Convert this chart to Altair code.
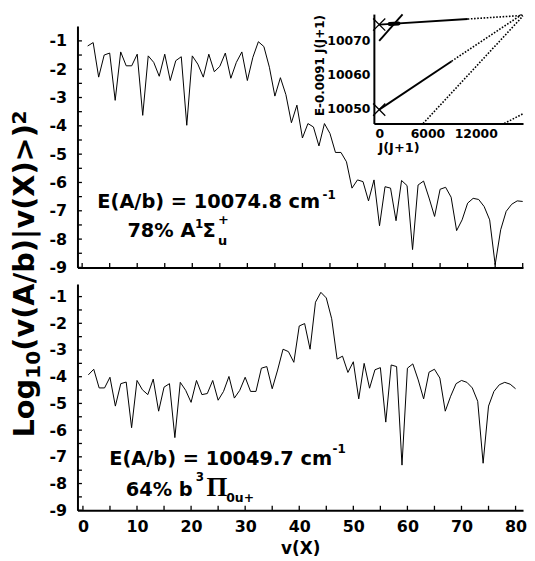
import altair as alt
import pandas as pd

# ---------------- data ----------------
v_levels = list(range(1, 81))

top_vals = [-1.18, -1.06, -2.28, -1.50, -1.43, -3.10, -1.39, -1.88, -1.88, -1.47,
            -3.63, -1.53, -1.76, -2.25, -1.47, -2.40, -1.70, -1.56, -3.98, -1.53,
            -1.82, -2.28, -1.47, -2.09, -1.90, -1.43, -2.32, -1.76, -1.39, -2.40,
            -1.58, -1.03, -1.20, -1.93, -2.95, -2.30, -2.90, -3.89, -3.27, -4.43,
            -3.92, -4.04, -4.71, -3.92, -4.27, -4.94, -4.94, -5.27, -6.20, -5.91,
            -5.97, -6.65, -5.91, -7.53, -6.15, -6.20, -7.35, -5.93, -6.11, -8.37,
            -6.09, -5.95, -6.55, -7.20, -6.24, -6.17, -6.52, -7.70, -7.32, -6.73,
            -6.56, -6.60, -6.85, -7.32, -8.90, -7.67, -7.02, -6.77, -6.65, -6.67]

bottom_vals = [-3.93, -3.72, -4.42, -4.42, -4.02, -5.10, -4.26, -4.20, -5.91, -4.14,
               -4.49, -4.67, -4.09, -5.29, -4.39, -4.26, -6.28, -4.21, -4.51, -4.96,
               -4.14, -4.67, -4.63, -4.14, -4.88, -4.55, -3.99, -4.80, -4.51, -4.02,
               -4.55, -4.55, -3.68, -3.62, -4.45, -3.75, -2.97, -3.06, -3.46, -2.10,
               -2.01, -2.97, -1.21, -0.84, -1.05, -1.83, -3.34, -3.23, -3.84, -3.44,
               -4.83, -3.50, -4.43, -3.74, -3.66, -5.70, -3.56, -3.62, -7.31, -3.68,
               -3.52, -4.12, -4.83, -3.83, -3.72, -4.05, -5.29, -4.73, -4.26, -4.14,
               -4.21, -4.42, -4.92, -7.24, -5.10, -4.55, -4.30, -4.21, -4.28, -4.45]

y_tick_labels = [-1, -2, -3, -4, -5, -6, -7, -8, -9]
y_minor_ticks = [-9.0, -8.5, -8.0, -7.5, -7.0, -6.5, -6.0, -5.5, -5.0,
                 -4.5, -4.0, -3.5, -3.0, -2.5, -2.0, -1.5, -1.0]
x_tick_labels = [0, 10, 20, 30, 40, 50, 60, 70, 80]
x_minor_ticks = [0, 5, 10, 15, 20, 25, 30, 35, 40, 45, 50, 55, 60, 65, 70, 75, 80]

# inset (term values vs J(J+1))
inset_x_ticks = [0, 6000, 12000]
inset_y_ticks = [10050, 10060, 10070]
solid_seg = ["A", "A", "b", "b", "p", "p"]
solid_J = [0, 11000, 0, 9000, 0, 2900]
solid_E = [10074.8, 10076.44, 10049.7, 10064.0, 10070.0, 10077.8]
dot_seg = ["A", "A", "b", "b", "q", "q", "r", "r"]
dot_J = [11000, 17850, 9000, 17800, 5455, 17850, 15534, 17870]
dot_E = [10076.44, 10077.5, 10064.0, 10077.9, 10045.6, 10077.3, 10045.6, 10048.5]
blob_J = [1300, 2400]
blob_E = [10075.0, 10075.15]
origin_J = [0, 0]
origin_E = [10074.8, 10049.7]

FONT = "DejaVu Sans"
BLACK = "black"

W, H = 449, 488
TOP_H = 243.3

top_xs = alt.Scale(domain=[-0.85, 80.06], range=[0, W], nice=False, zero=False)
top_ys = alt.Scale(domain=[-9.0, -0.474], range=[TOP_H, 0], nice=False, zero=False)
bot_xs = alt.Scale(domain=[-1.01, 81.38], range=[0, W], nice=False, zero=False)
bot_ys = alt.Scale(domain=[-9.0, -0.528], range=[H, 260], nice=False, zero=False)
ins_xs = alt.Scale(domain=[-660, 17870], range=[298.7, W], nice=False, zero=False)
ins_ys = alt.Scale(domain=[10045.6, 10077.9], range=[98.3, -12], nice=False, zero=False)

label_expr = "datum.value < 0 ? '-' + format(-datum.value, 'd') : format(datum.value, 'd')"


def y_axis():
    return alt.Axis(orient="left", values=y_tick_labels, labelExpr=label_expr, ticks=False,
                    grid=False, domainColor=BLACK, domainWidth=2, labelFont=FONT,
                    labelFontWeight="bold", labelFontSize=16, labelColor=BLACK,
                    labelPadding=11, title=None)


top_x_axis = alt.Axis(orient="bottom", offset=-(H - TOP_H), labels=False, ticks=False,
                      grid=False, domainColor=BLACK, domainWidth=2, title=None)
bot_x_axis = alt.Axis(orient="bottom", values=x_tick_labels, ticks=False, grid=False,
                      domainColor=BLACK, domainWidth=2, labelFont=FONT, labelFontWeight="bold",
                      labelFontSize=16, labelColor=BLACK, labelPadding=8, title="v(X)",
                      titleFont=FONT, titleFontWeight="bold", titleFontSize=17,
                      titleColor=BLACK, titlePadding=7)
ins_x_axis = alt.Axis(orient="bottom", values=inset_x_ticks, offset=-(H - 98.3), ticks=False,
                      grid=False, domainColor=BLACK, domainWidth=2, labelFont=FONT,
                      labelFontWeight="bold", labelFontSize=12.5, labelColor=BLACK,
                      labelPadding=4.5, format="d", title=None, labelFlush=False)
ins_y_axis = alt.Axis(orient="left", values=inset_y_ticks, offset=-298.7, ticks=False,
                      grid=False, domainColor=BLACK, domainWidth=2, labelFont=FONT,
                      labelFontWeight="bold", labelFontSize=12.5, labelColor=BLACK,
                      labelPadding=4, format="d", title=None, labelFlush=False)


def text_layer(xs, ys, labels, xscale, yscale, xaxis, yaxis, size, xfield="v", yfield="val",
               font=FONT, align="left", baseline="alphabetic", angle=0):
    df = pd.DataFrame({xfield: xs, yfield: ys, "label": labels})
    return alt.Chart(df).mark_text(
        align=align, baseline=baseline, font=font, fontWeight="bold", fontSize=size,
        color=BLACK, angle=angle
    ).encode(
        x=alt.X(f"{xfield}:Q", scale=xscale, axis=xaxis),
        y=alt.Y(f"{yfield}:Q", scale=yscale, axis=yaxis),
        text="label:N",
    )


def panel_base(vals, xs, ys, xaxis, bottom_px):
    df = pd.DataFrame({"v": v_levels, "val": vals})
    line = alt.Chart(df).mark_line(color=BLACK, strokeWidth=1).encode(
        x=alt.X("v:Q", scale=xs, axis=xaxis),
        y=alt.Y("val:Q", scale=ys, axis=y_axis()),
    )
    yt = alt.Chart(pd.DataFrame({"val": y_minor_ticks})).mark_rule(
        color=BLACK, strokeWidth=1.3).encode(
        y=alt.Y("val:Q", scale=ys, axis=y_axis()), x=alt.value(0), x2=alt.value(4.5))
    xt = alt.Chart(pd.DataFrame({"v": x_minor_ticks})).mark_rule(
        color=BLACK, strokeWidth=1.3).encode(
        x=alt.X("v:Q", scale=xs, axis=xaxis), y=alt.value(bottom_px),
        y2=alt.value(bottom_px - 4.5))
    return [line, yt, xt]


# ---------------- top panel ----------------
def tl(xs, ys, labels, size, **kw):
    return text_layer(xs, ys, labels, top_xs, top_ys, top_x_axis, y_axis(), size, **kw)


top_texts = [
    tl([2.757], [-6.905], ["E(A/b) = 10074.8 cm"], 19.5),
    tl([43.66], [-6.579], ["-1"], 12),
    tl([8.216], [-7.937], ["78% A"], 19.5),
    tl([20.5], [-7.596], ["1"], 12),
    tl([21.86], [-7.937], ["Σ"], 19.5),
    tl([24.65], [-7.456], ["+"], 13),
    tl([24.65], [-8.193], ["u"], 13),
    # rotated y-axis title: Log10(v(A/b)|v(X)>)^2
    tl([-8.779], [-15.006], ["Log"], 29, angle=270),
    tl([-7.697], [-12.932], ["10"], 20.3, angle=270),
    tl([-8.779], [-11.940], ["(v(A/b)|v(X)>)"], 29, angle=270),
    tl([-10.130], [-3.957], ["2"], 20.3, angle=270),
]
top_layer = alt.layer(*panel_base(top_vals, top_xs, top_ys, top_x_axis, TOP_H), *top_texts)


# ---------------- bottom panel ----------------
def bl(xs, ys, labels, size, **kw):
    return text_layer(xs, ys, labels, bot_xs, bot_ys, bot_x_axis, y_axis(), size, **kw)


bot_texts = [
    bl([4.862], [-7.308], ["E(A/b) = 10049.7 cm"], 19.5),
    bl([46.15], [-6.874], ["-1"], 12),
    bl([7.927], [-8.469], ["64% b"], 19.5),
    bl([20.85], [-7.900], ["3"], 12),
    bl([22.84], [-8.469], ["Π"], 27, font="Liberation Serif"),
    bl([26.5], [-8.692], ["0u+"], 12.5),
]
bot_layer = alt.layer(*panel_base(bottom_vals, bot_xs, bot_ys, bot_x_axis, H), *bot_texts)


# ---------------- inset ----------------
def ins_enc(chart):
    return chart.encode(x=alt.X("J:Q", scale=ins_xs, axis=ins_x_axis),
                        y=alt.Y("E:Q", scale=ins_ys, axis=ins_y_axis))


ins_solid = ins_enc(alt.Chart(pd.DataFrame({"J": solid_J, "E": solid_E, "seg": solid_seg}))
                    .mark_line(color=BLACK, strokeWidth=1.9)).encode(detail="seg:N")
ins_dot = ins_enc(alt.Chart(pd.DataFrame({"J": dot_J, "E": dot_E, "seg": dot_seg}))
                  .mark_line(color=BLACK, strokeWidth=1.6, strokeDash=[1.6, 1.6])
                  ).encode(detail="seg:N")
ins_blob = ins_enc(alt.Chart(pd.DataFrame({"J": blob_J, "E": blob_E}))
                   .mark_line(color=BLACK, strokeWidth=4, strokeCap="round"))
ins_marks = ins_enc(alt.Chart(pd.DataFrame({"J": origin_J, "E": origin_E}))
                    .mark_point(shape="M -1 -1 L 1 1 M -1 1 L 1 -1", size=150, filled=False,
                                color=BLACK, strokeWidth=1.3, opacity=1))


def il(xs, ys, labels, size, **kw):
    return text_layer(xs, ys, labels, ins_xs, ins_ys, ins_x_axis, ins_y_axis, size,
                      xfield="J", yfield="E", **kw)


ins_texts = [
    il([2459], [10038.5], ["J(J+1)"], 13, align="center", baseline="middle"),
    il([-7404], [10062.7], ["E-0.0091 J(J+1)"], 12, align="center", baseline="middle",
       angle=270),
]
inset_layer = alt.layer(ins_solid, ins_dot, ins_blob, ins_marks, *ins_texts)

# invisible anchor fixing the top-left extent of the drawing
anchor = alt.Chart(pd.DataFrame({"a": [0]})).mark_rule(
    strokeWidth=0.1, opacity=0, strokeOpacity=0).encode(
    x=alt.value(-70), x2=alt.value(-69.9), y=alt.value(-12))

chart = alt.layer(top_layer, bot_layer, inset_layer, anchor).resolve_scale(
    x="independent", y="independent"
).properties(
    width=W, height=H, padding=0, background="white"
).configure_view(stroke=None)

chart.save("out.html", embed_options={"renderer": "svg", "actions": False})
